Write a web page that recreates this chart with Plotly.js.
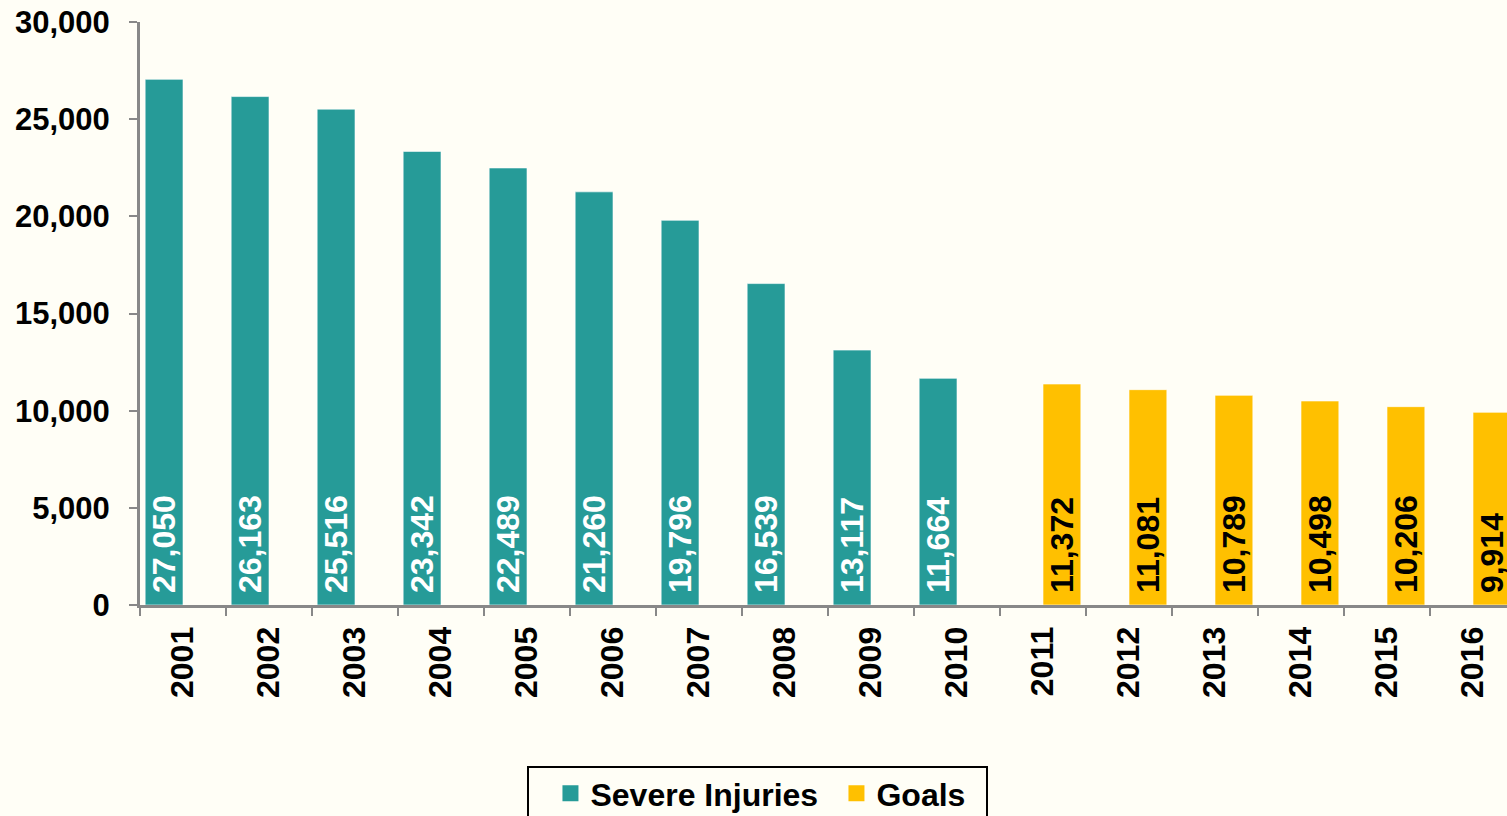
<!DOCTYPE html>
<html>
<head>
<meta charset="utf-8">
<script src="https://cdn.plot.ly/plotly-3.0.1.min.js"></script>
<style>
html,body{margin:0;padding:0;overflow:hidden;background:#FFFEF6;}
#chart{width:1530px;height:816px;}
</style>
</head>
<body>
<div id="chart"></div>
<script>
const years = ['2001','2002','2003','2004','2005','2006','2007','2008','2009','2010','2011','2012','2013','2014','2015','2016'];
const injuryYears = ['2001','2002','2003','2004','2005','2006','2007','2008','2009','2010'];
const severeInjuries = [27050, 26163, 25516, 23342, 22489, 21260, 19796, 16539, 13117, 11664];
const goalYears = ['2011','2012','2013','2014','2015','2016'];
const goals = [11372, 11081, 10789, 10498, 10206, 9914];
const yTicks = [0, 5000, 10000, 15000, 20000, 25000, 30000];

const TEAL = '#269B98';
const GOLD = '#FFC000';
const font = '"Liberation Sans", Arial, sans-serif';
const fmt = v => v.toLocaleString('en-US');

const traces = [
  {
    type: 'bar', name: 'Severe Injuries', x: injuryYears, y: severeInjuries,
    width: 0.44, offset: -0.44, showlegend: false,
    marker: {color: TEAL, line: {color: 'rgba(255,255,255,0.6)', width: 1}},
    text: severeInjuries.map(fmt), texttemplate: '\u00A0%{text}',
    textposition: 'inside', insidetextanchor: 'start',
    textangle: -90, constraintext: 'none',
    insidetextfont: {family: font, size: 32, color: '#FFFFFF', weight: 'bold'}
  },
  {
    type: 'bar', name: 'Goals', x: goalYears, y: goals,
    width: 0.44, offset: 0, showlegend: false,
    marker: {color: GOLD, line: {color: 'rgba(255,255,255,0.6)', width: 1}},
    text: goals.map(fmt), texttemplate: '\u00A0%{text}',
    textposition: 'inside', insidetextanchor: 'start',
    textangle: -90, constraintext: 'none',
    insidetextfont: {family: font, size: 32, color: '#000000', weight: 'bold'}
  },
  {
    type: 'scatter', mode: 'markers', name: 'Severe Injuries', x: [null], y: [null],
    marker: {symbol: 'square', size: 17, color: TEAL}, hoverinfo: 'skip'
  },
  {
    type: 'scatter', mode: 'markers', name: 'Goals', x: [null], y: [null],
    marker: {symbol: 'square', size: 17, color: GOLD}, hoverinfo: 'skip'
  }
];

const layout = {
  width: 1530, height: 816,
  margin: {l: 140, r: 14, t: 22, b: 211, autoexpand: false},
  paper_bgcolor: '#FFFEF6', plot_bgcolor: '#FFFEF6',
  font: {family: font, size: 32, color: '#000000', weight: 'bold'},
  barmode: 'overlay',
  showlegend: true,
  legend: {
    orientation: 'h', x: 0.2983, xanchor: 'left', y: -0.2762, yanchor: 'top',
    borderwidth: 0, bgcolor: 'rgba(0,0,0,0)',
    font: {family: font, size: 32, color: '#000000', weight: 'bold'},
    traceorder: 'normal', itemwidth: 30,
    entrywidth: 241, entrywidthmode: 'pixels'
  },
  shapes: [{
    type: 'rect', xref: 'paper', yref: 'paper',
    x0: (528 - 140) / 1376, x1: (987 - 140) / 1376,
    y0: -(767 - 605) / 583, y1: -0.5,
    line: {color: '#000000', width: 2}, fillcolor: 'rgba(0,0,0,0)', layer: 'above'
  }],
  xaxis: {
    type: 'category', categoryorder: 'array', categoryarray: years,
    range: [-0.5, 15.5],
    tickson: 'boundaries', ticks: 'outside', ticklen: 8, tickwidth: 2, tickcolor: '#888888',
    showline: true, linecolor: '#888888', linewidth: 3,
    tickangle: -90, showgrid: false, zeroline: false,
    tickfont: {family: font, size: 32, color: '#000000', weight: 'bold'},
    ticklabelstandoff: 6
  },
  yaxis: {
    range: [0, 30000], tickmode: 'array', tickvals: yTicks, ticktext: yTicks.map(fmt),
    ticks: 'outside', ticklen: 8, tickwidth: 2, tickcolor: '#888888',
    showline: true, linecolor: '#888888', linewidth: 3,
    showgrid: false, zeroline: false,
    tickfont: {family: font, size: 31, color: '#000000', weight: 'bold'},
    ticklabelstandoff: 13
  }
};

Plotly.newPlot('chart', traces, layout, {displayModeBar: false, staticPlot: true});
</script>
</body>
</html>
